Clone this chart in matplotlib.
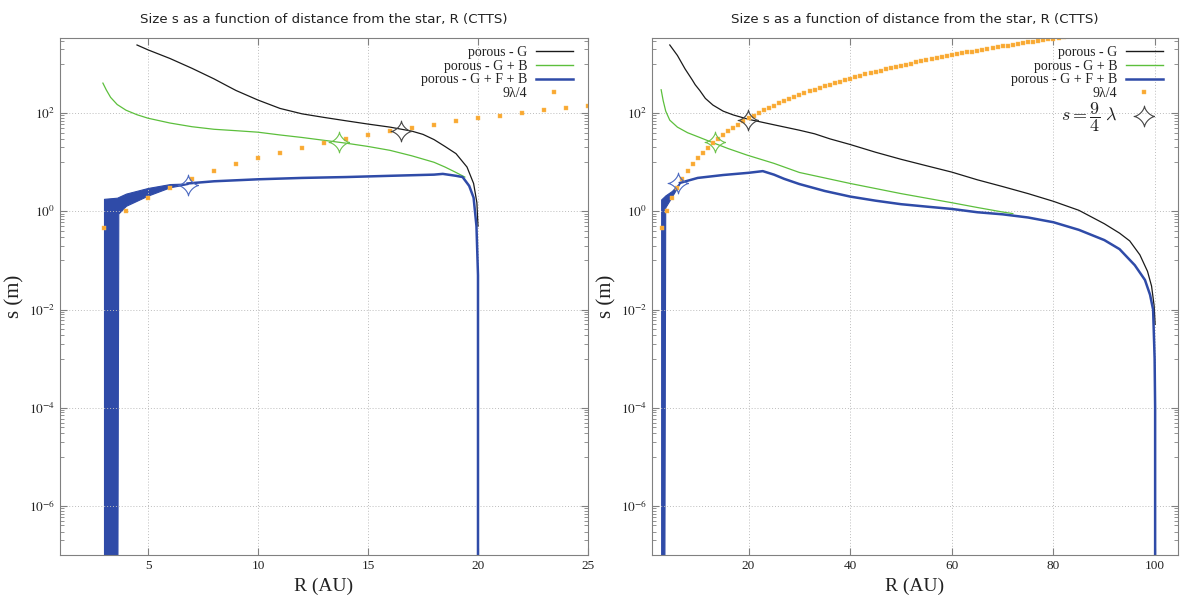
import numpy as np
import matplotlib
matplotlib.use("Agg")
import matplotlib.pyplot as plt
from matplotlib.path import Path
from matplotlib.lines import Line2D
from matplotlib.ticker import FixedLocator, NullFormatter, FuncFormatter

plt.rcParams['font.family'] = ['Liberation Serif', 'DejaVu Serif']
plt.rcParams['mathtext.fontset'] = 'stix'

TITLE = "Size s as a function of distance from the star, R (CTTS)"

# ---------- left panel ----------
L_G_R = [4.5, 5, 6, 7, 8, 8.6, 9, 10, 11, 12, 13, 14, 15, 16, 17, 17.5, 18, 18.5, 19, 19.5, 19.8, 19.95, 20.0]
L_G_s = [2450, 1950, 1300, 820, 500, 360, 290, 185, 125, 97, 82, 70, 60, 52, 43, 37, 29, 21, 15, 8, 3.7, 1.5, 0.5]

L_GB_R = [2.95, 3.1, 3.3, 3.6, 4.0, 4.5, 5, 6, 7, 8, 9, 10, 11, 12, 13, 14, 15, 16, 17, 18, 18.5, 19, 19.4]
L_GB_s = [410, 300, 210, 150, 115, 93, 79, 63, 53, 47, 44, 41, 36, 32, 28, 24.5, 21, 17.5, 13.5, 10, 8, 6.2, 5.0]

# oscillating part of G+F+B (envelope)
L_band_R = [3.0, 3.6, 3.65, 4.0, 5.0, 6.0, 6.8]
L_band_hi = [1.8, 1.9, 1.95, 2.3, 3.0, 3.6, 3.7]
L_band_lo = [1e-9, 1e-9, 0.9, 1.3, 2.1, 3.1, 3.6]

L_GFB_R = [6.8, 8, 10, 12, 14, 16, 18, 18.4, 19.0, 19.3, 19.6, 19.8, 19.93, 20.0, 20.0]
L_GFB_s = [3.7, 4.1, 4.5, 4.8, 5.0, 5.3, 5.6, 5.8, 5.3, 5.0, 3.3, 1.9, 0.5, 0.05, 1e-9]

L_star_R = [16.5, 13.7, 6.8]
L_star_s = [43, 25.5, 3.5]

# ---------- right panel ----------
R_G_R = [4.5, 6, 7.5, 8.9, 9.5, 10.4, 11.5, 13, 15, 17, 20, 25, 30, 33, 36, 40, 45, 50, 55, 60,
         65, 70, 75, 80, 85, 90, 93, 95, 97, 98.5, 99.3, 99.8, 100]
R_G_s = [2450, 1500, 800, 480, 380, 290, 200, 146, 110, 92, 75, 58, 45, 38, 30, 23, 16, 11.5, 8.5, 6.3,
         4.4, 3.2, 2.3, 1.6, 1.05, 0.56, 0.36, 0.25, 0.13, 0.06, 0.03, 0.012, 0.005]

R_GB_R = [2.8, 3.2, 3.7, 4.5, 6, 8, 10.4, 13, 16, 19.7, 25, 30, 40, 50, 60, 65, 70, 72]
R_GB_s = [300, 180, 110, 72, 52, 40, 32, 25, 19, 14, 9.5, 6.2, 3.7, 2.3, 1.5, 1.2, 0.97, 0.9]

R_band_R = [2.8, 3.4, 3.6, 4.9, 6.5]
R_band_hi = [1.75, 2.0, 2.1, 2.6, 3.9]
R_band_lo = [1e-9, 1e-9, 1.2, 2.0, 3.8]

R_GFB_R = [6.5, 10, 15, 20, 22.8, 25, 27, 30, 35, 40, 45, 50, 55, 60, 65, 70, 75, 80, 85, 90,
           93, 96, 98, 99, 99.6, 99.9, 100, 100]
R_GFB_s = [3.8, 4.8, 5.5, 6.1, 6.6, 5.6, 4.6, 3.6, 2.6, 2.0, 1.65, 1.4, 1.25, 1.12, 0.96, 0.87, 0.75, 0.6, 0.42, 0.26,
           0.17, 0.08, 0.04, 0.02, 0.01, 1e-3, 1e-4, 1e-9]

R_star_R = [19.9, 13.4, 6.1]
R_star_s = [72, 25.5, 3.7]

# 9 lambda / 4, one point per AU from 3 AU
lam_R = list(range(3, 83))
lam_s = [0.46, 1.01, 1.85, 3.02, 4.58, 6.57, 9.03, 12, 15.5, 19.6,
         24.4, 29.8, 35.9, 42.7, 50.3, 58.7, 67.9, 78, 88.9, 101,
         114, 128, 142, 158, 175, 194, 213, 233, 255, 277,
         301, 327, 353, 381, 411, 441, 473, 506, 541, 578,
         616, 655, 696, 739, 783, 829, 876, 925, 976, 1028,
         1083, 1139, 1197, 1256, 1318, 1381, 1447, 1514, 1583, 1654,
         1727, 1802, 1879, 1958, 2040, 2123, 2208, 2296, 2385, 2477,
         2571, 2667, 2765, 2866, 2969, 3074, 3181, 3292, 3403, 3518]
n_left = 23  # left panel only shows 3..25 AU

C_G = '#1a1a1a'
C_GB = '#5cbf3c'
C_GFB = '#2f4ba8'
C_LAM = '#f9a832'
star_cols = ['#444444', '#6cc24a', '#4a68c0']
lam_style = dict(ls='none', marker='s', ms=2.4, mfc=C_LAM, mec='#fbbd55', mew=0.3)

t = np.linspace(0, 2 * np.pi, 121)
astroid = Path(np.column_stack([np.cos(t) ** 3, np.sin(t) ** 3]))


def style(ax, xlim, xticks):
    ax.set_yscale('log')
    ax.set_ylim(1e-7, 3400)
    ax.set_xlim(*xlim)
    ax.set_xticks(xticks)
    ax.yaxis.set_major_locator(FixedLocator([1e-6, 1e-4, 1e-2, 1, 1e2]))
    ax.yaxis.set_minor_locator(FixedLocator([m * 10.0 ** e for e in (-7, -5, -3, -1, 1, 3) for m in range(1, 10)]))
    ax.yaxis.set_minor_formatter(NullFormatter())
    ax.yaxis.set_major_formatter(FuncFormatter(lambda v, p: r'$10^{%d}$' % round(np.log10(v))))
    ax.tick_params(which='both', direction='in', top=True, right=True, color='#808080',
                   labelcolor='#222222', labelsize=9.5)
    ax.tick_params(which='major', length=5, width=0.8)
    ax.tick_params(which='minor', length=3, width=0.6)
    ax.grid(True, which='major', ls=(0, (1, 2)), color='#bdbdbd', lw=0.7)
    for sp in ax.spines.values():
        sp.set_color('#808080')
    ax.set_xlabel('R (AU)', fontsize=14, labelpad=4, color='#222222')
    ax.set_ylabel('s (m)', fontsize=15, labelpad=3, color='#222222')
    ax.set_title(TITLE, fontsize=9.6, family='DejaVu Sans', pad=11, color='#222222')


def draw(ax, G, GB, band, GFB, stars, nlam):
    ax.plot(G[0], G[1], color=C_G, lw=0.9)
    ax.plot(GB[0], GB[1], color=C_GB, lw=0.9)
    ax.fill_between(band[0], band[2], band[1], color=C_GFB, lw=0.8)
    ax.plot(GFB[0], GFB[1], color=C_GFB, lw=1.8)
    ax.plot(lam_R[:nlam], lam_s[:nlam], **lam_style)
    for x, y, c in zip(stars[0], stars[1], star_cols):
        ax.plot([x], [y], ls='none', marker=astroid, ms=15, mfc='none', mec=c, mew=0.8)


def legend(ax, extra=False):
    handles = [Line2D([], [], color=C_G, lw=1.0),
               Line2D([], [], color=C_GB, lw=1.0),
               Line2D([], [], color=C_GFB, lw=1.8),
               Line2D([], [], **lam_style)]
    labels = ['porous - G', 'porous - G + B', 'porous - G + F + B', '9λ/4']
    if extra:
        handles.append(Line2D([], [], ls='none', marker=astroid, ms=15, mfc='none', mec='#444444', mew=0.8))
        labels.append(r'$s = \dfrac{9}{4}\;\lambda$')
    w = ax.get_position().width * 1185
    h = ax.get_position().height * 606
    leg = ax.legend(handles, labels, loc='upper right', bbox_to_anchor=(1 - 15 / w, 1 - 8 / h),
                    borderaxespad=0, borderpad=0, frameon=False, markerfirst=False,
                    fontsize=10, handlelength=2.7, handletextpad=0.6, labelspacing=0.05, numpoints=1)
    for tx in leg.get_texts():
        tx.set_color('#222222')
    if extra:
        last = leg.get_texts()[-1]
        last.set_fontsize(13)
        last.set_math_fontfamily('cm')
    return leg


fig = plt.figure(figsize=(11.85, 6.06), dpi=100)
axL = fig.add_axes([60 / 1185, 51 / 606, 528 / 1185, 517 / 606])
axR = fig.add_axes([652 / 1185, 51 / 606, 526 / 1185, 517 / 606])

draw(axL, (L_G_R, L_G_s), (L_GB_R, L_GB_s), (L_band_R, L_band_hi, L_band_lo),
     (L_GFB_R, L_GFB_s), (L_star_R, L_star_s), n_left)
style(axL, (1, 25), [5, 10, 15, 20, 25])
legend(axL)

draw(axR, (R_G_R, R_G_s), (R_GB_R, R_GB_s), (R_band_R, R_band_hi, R_band_lo),
     (R_GFB_R, R_GFB_s), (R_star_R, R_star_s), len(lam_R))
style(axR, (1, 104.5), [20, 40, 60, 80, 100])
legend(axR, extra=True)

fig.savefig('out.png', dpi=100)
